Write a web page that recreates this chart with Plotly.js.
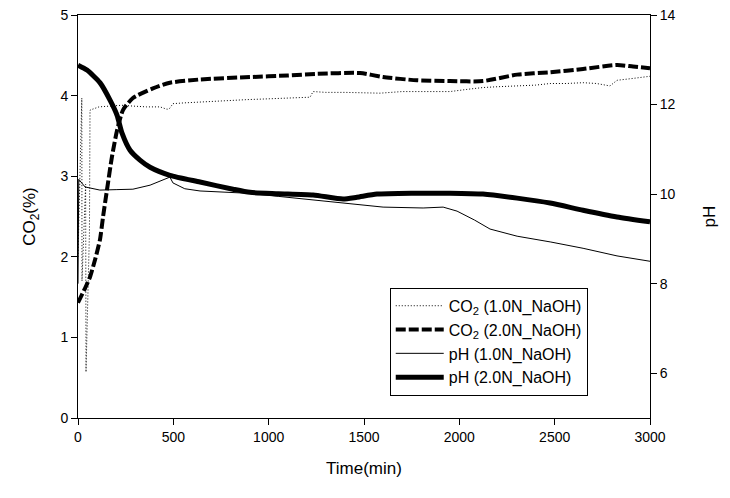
<!DOCTYPE html>
<html>
<head>
<meta charset="utf-8">
<script src="https://cdn.plot.ly/plotly-3.0.1.min.js"></script>
<style>html,body{margin:0;padding:0;background:#fff;}#chart{width:730px;height:498px;}</style>
</head>
<body>
<div id="chart"></div>
<script>
// CO2 (1.0N NaOH), %
var co2_1_t = [0, 20, 21, 40, 42, 60, 63, 110, 168, 230, 288, 360, 430, 467, 480, 498, 560, 640, 720, 813, 886, 1000, 1100, 1217, 1233, 1300, 1400, 1584, 1700, 1800, 1951, 2050, 2124, 2200, 2303, 2400, 2476, 2560, 2649, 2720, 2790, 2827, 2900, 3000];
var co2_1_v = [2.0, 3.97, 1.7, 2.9, 0.57, 2.3, 3.82, 3.86, 3.87, 3.88, 3.87, 3.86, 3.86, 3.83, 3.84, 3.90, 3.91, 3.92, 3.93, 3.95, 3.95, 3.96, 3.97, 3.98, 4.05, 4.04, 4.04, 4.03, 4.05, 4.05, 4.05, 4.08, 4.10, 4.11, 4.12, 4.13, 4.15, 4.15, 4.16, 4.15, 4.12, 4.19, 4.21, 4.24];
// CO2 (2.0N NaOH), %
var co2_2_t = [0, 37, 63, 89, 115, 131, 152, 178, 205, 236, 288, 393, 482, 640, 902, 1100, 1254, 1479, 1600, 1778, 1950, 2124, 2303, 2476, 2649, 2827, 2911, 3000];
var co2_2_v = [1.43, 1.61, 1.75, 1.96, 2.21, 2.49, 2.83, 3.24, 3.57, 3.82, 3.97, 4.09, 4.16, 4.20, 4.23, 4.25, 4.27, 4.28, 4.23, 4.19, 4.18, 4.18, 4.26, 4.29, 4.33, 4.38, 4.36, 4.34];
// pH (1.0N NaOH)
var ph_1_t = [0, 4, 37, 115, 200, 288, 378, 482, 498, 560, 640, 886, 1050, 1233, 1400, 1600, 1810, 1915, 1988, 2080, 2161, 2303, 2480, 2649, 2827, 3000];
var ph_1_v = [8.0, 10.33, 10.16, 10.09, 10.10, 10.11, 10.20, 10.38, 10.25, 10.12, 10.07, 10.02, 9.95, 9.87, 9.79, 9.71, 9.69, 9.71, 9.62, 9.42, 9.22, 9.06, 8.93, 8.79, 8.62, 8.50];
// pH (2.0N NaOH)
var ph_2_t = [0, 47, 115, 168, 205, 231, 273, 325, 378, 482, 640, 813, 902, 1050, 1233, 1390, 1463, 1568, 1750, 1951, 2124, 2303, 2476, 2649, 2827, 3000];
var ph_2_v = [12.88, 12.77, 12.49, 12.10, 11.76, 11.36, 10.98, 10.76, 10.60, 10.42, 10.27, 10.11, 10.04, 10.01, 9.98, 9.89, 9.93, 10.00, 10.02, 10.02, 10.00, 9.91, 9.80, 9.64, 9.49, 9.38];

var xTicks = [0, 500, 1000, 1500, 2000, 2500, 3000];
var yTicks = [0, 1, 2, 3, 4, 5];
var y2Ticks = [6, 8, 10, 12, 14];

var traces = [
  {x: co2_1_t, y: co2_1_v, type: 'scatter', mode: 'lines', name: 'CO<sub>2</sub> (1.0N_NaOH)',
   line: {color: '#000', width: 1, dash: '1px,2px'}},
  {x: co2_2_t, y: co2_2_v, type: 'scatter', mode: 'lines', name: 'CO<sub>2</sub> (2.0N_NaOH)',
   line: {color: '#000', width: 4, dash: '10px,3px', shape: 'spline', smoothing: 0.6}},
  {x: ph_1_t, y: ph_1_v, type: 'scatter', mode: 'lines', name: 'pH (1.0N_NaOH)', yaxis: 'y2',
   line: {color: '#000', width: 1}},
  {x: ph_2_t, y: ph_2_v, type: 'scatter', mode: 'lines', name: 'pH (2.0N_NaOH)', yaxis: 'y2',
   line: {color: '#000', width: 5, shape: 'spline', smoothing: 0.6}}
];

var fam = 'Arial, Liberation Sans, sans-serif';
var tickFont = {family: fam, size: 14, color: '#000'};
var titleFont = {family: fam, size: 17, color: '#000'};

var layout = {
  width: 730, height: 498,
  margin: {l: 78, r: 80, t: 15, b: 80, pad: 0},
  paper_bgcolor: '#fff', plot_bgcolor: '#fff',
  showlegend: true,
  legend: {x: 0.545, y: 0.323, xanchor: 'left', yanchor: 'top', bgcolor: '#fff',
           bordercolor: '#000', borderwidth: 1, font: {family: fam, size: 16, color: '#000'},
           tracegroupgap: 0, itemwidth: 48},
  xaxis: {range: [0, 3000], tickvals: xTicks, ticktext: xTicks.map(String), ticks: 'outside', ticklen: 6,
          tickcolor: '#000', showline: true, linecolor: '#000', linewidth: 1, mirror: true, showgrid: false,
          zeroline: false, tickfont: tickFont, title: {text: 'Time(min)', font: titleFont, standoff: 18}},
  yaxis: {range: [0, 5], tickvals: yTicks, ticktext: yTicks.map(String), ticks: 'outside', ticklen: 6,
          tickcolor: '#000', showline: true, linecolor: '#000', linewidth: 1, showgrid: false, zeroline: false,
          tickfont: tickFont, title: {text: 'CO<sub>2</sub>(%)', font: titleFont, standoff: 20}},
  yaxis2: {range: [5, 14], tickvals: y2Ticks, ticktext: y2Ticks.map(String), overlaying: 'y', side: 'right',
           ticks: 'outside', ticklen: 6, tickcolor: '#000', showline: true, linecolor: '#000', linewidth: 1,
           showgrid: false, zeroline: false, tickfont: tickFont, title: {text: 'pH', font: titleFont, standoff: 28}}
};

Plotly.newPlot('chart', traces, layout, {displayModeBar: false, staticPlot: true});
</script>
</body>
</html>
